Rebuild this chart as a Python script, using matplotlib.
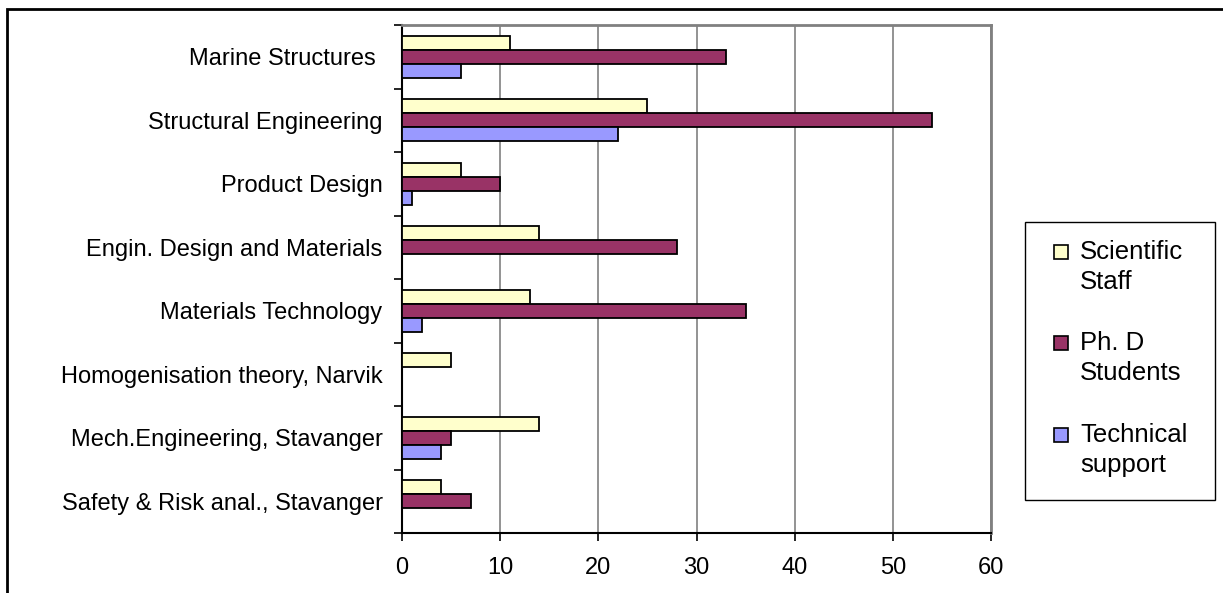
import matplotlib.pyplot as plt
import numpy as np
from matplotlib.patches import Rectangle

plt.rcParams['font.family'] = ['Liberation Sans', 'DejaVu Sans']

categories = [
    'Marine Structures ',
    'Structural Engineering',
    'Product Design',
    'Engin. Design and Materials',
    'Materials Technology',
    'Homogenisation theory, Narvik',
    'Mech.Engineering, Stavanger',
    'Safety & Risk anal., Stavanger',
]
scientific_staff = [11, 25, 6, 14, 13, 5, 14, 4]
phd_students = [33, 54, 10, 28, 35, 0, 5, 7]
technical_support = [6, 22, 1, 0, 2, 0, 4, 0]
series_labels = ['Scientific\nStaff', 'Ph. D\nStudents', 'Technical\nsupport']
x_ticks = [0, 10, 20, 30, 40, 50, 60]

colors = ['#FFFFCC', '#993366', '#9999FF']

W, H = 1223, 593
fig = plt.figure(figsize=(W / 100, H / 100), dpi=100)
ax = fig.add_axes([402 / W, 1 - 533 / H, (991 - 402) / W, (533 - 25) / H])

# outer frame of the chart object
fig.patches.append(Rectangle((7 / W, -0.05), 1.1, 1 - 9 / H + 0.05, transform=fig.transFigure,
                             fill=False, edgecolor='black', linewidth=2, zorder=0))

n = len(categories)
y = np.arange(n)
bh = 0.222
series = [scientific_staff, phd_students, technical_support]
for i, (vals, col, lab) in enumerate(zip(series, colors, series_labels)):
    ax.barh(y + (i - 1) * bh, vals, height=bh, color=col, edgecolor='black',
            linewidth=1.3, label=lab, zorder=3)

ax.set_xlim(0, 60)
ax.set_ylim(n - 0.5, -0.5)
ax.set_xticks(x_ticks)
ax.set_xticklabels([str(t) for t in x_ticks], fontsize=17)
ax.set_yticks(y)
ax.set_yticklabels(categories, fontsize=17)
ax.set_yticks(np.arange(n + 1) - 0.5, minor=True)
ax.tick_params(axis='y', which='major', length=0, pad=14)
ax.tick_params(axis='y', which='minor', length=6, width=1.2, color='black')
ax.tick_params(axis='x', length=6, width=1.2, pad=11)

ax.xaxis.grid(True, color='#808080', linewidth=1.2, zorder=0)
ax.set_axisbelow(True)
for side in ['top', 'right']:
    ax.spines[side].set_color('#808080')
    ax.spines[side].set_linewidth(2)
for side in ['left', 'bottom']:
    ax.spines[side].set_color('black')
    ax.spines[side].set_linewidth(1.5)

# legend box drawn by hand so the key squares sit beside the first text line
def fx(px):
    return px / W

def fy(py):
    return 1 - py / H

fig.patches.append(Rectangle((fx(1025), fy(500)), fx(1215) - fx(1025), fy(222) - fy(500),
                             transform=fig.transFigure, facecolor='white',
                             edgecolor='black', linewidth=1.0))
first_line_y = [252, 343, 435]
for lab, col, ly in zip(series_labels, colors, first_line_y):
    fig.patches.append(Rectangle((fx(1054), fy(ly + 7)), fx(1068) - fx(1054), fy(ly - 7) - fy(ly + 7),
                                 transform=fig.transFigure, facecolor=col,
                                 edgecolor='black', linewidth=1.2))
    fig.text(fx(1080), fy(ly - 12), lab, fontsize=18.5, va='top', ha='left',
             linespacing=1.32)

fig.savefig('out.png', dpi=100)
